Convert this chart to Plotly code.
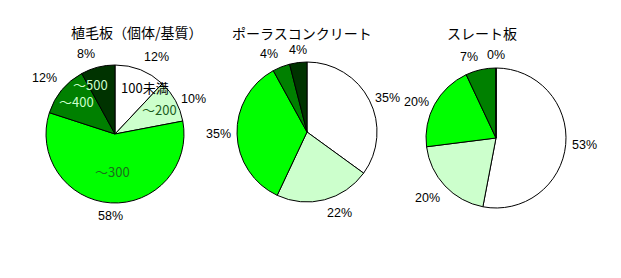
import math
import plotly.graph_objects as go

# Size classes (individuals per substrate) and share of each class per material
classes = ["100未満", "～200", "～300", "～400", "～500"]
materials = ["植毛板（個体/基質）", "ポーラスコンクリート", "スレート板"]
shares_flocked = [12, 10, 58, 12, 8]
shares_porous = [35, 22, 35, 4, 4]
shares_slate = [53, 20, 20, 7, 0]

slice_colors = ["#ffffff", "#ccffcc", "#00ff00", "#008000", "#003300"]
label_colors = ["#000000", "#1c5c1c", "#1c6c1c", "#ccffcc", "#ccffcc"]

W, H = 621, 278
# pie centres and radius in pixels
centres = [(115, 134, 69), (307, 132, 70), (496, 138, 70)]
title_pos = [(137, 32), (302, 33), (482, 33)]

PCT_FONT = dict(family="Liberation Sans", size=12.5, color="#000000")
JP_FONT = "Noto Sans CJK JP"


def domain(cx, cy, r):
    return dict(x=[(cx - r) / W, (cx + r) / W],
                y=[1 - (cy + r) / H, 1 - (cy - r) / H])


def mid_angles(vals):
    """Mid angle of each slice, degrees clockwise from 12 o'clock."""
    total = float(sum(vals))
    out, acc = [], 0.0
    for v in vals:
        out.append(360.0 * (acc + v / 2.0) / total)
        acc += v
    return out


def text_width(s, size=13):
    return sum(size if ord(ch) > 0x2000 else 0.58 * size for ch in s)


fig = go.Figure()
all_shares = [shares_flocked, shares_porous, shares_slate]
for i, vals in enumerate(all_shares):
    cx, cy, r = centres[i]
    fig.add_trace(go.Pie(
        values=vals, labels=classes, sort=False, direction="clockwise",
        rotation=0, domain=domain(cx, cy, r),
        marker=dict(colors=slice_colors, line=dict(color="#000000", width=1)),
        textinfo="none", hoverinfo="skip", showlegend=False,
    ))

    # percentage labels just outside the rim, anchored away from the centre
    total = sum(vals)
    for v, a in zip(vals, mid_angles(vals)):
        s, c = math.sin(math.radians(a)), math.cos(math.radians(a))
        px = cx + (r + 4) * s
        py = cy - (r + 4) * c
        xa = "center" if abs(s) < 0.15 else ("left" if s > 0 else "right")
        ya = "middle" if abs(c) < 0.5 else ("bottom" if c > 0 else "top")
        fig.add_annotation(text=f"{round(100 * v / total)}%", x=px / W, y=1 - py / H,
                           xref="paper", yref="paper", showarrow=False,
                           xanchor=xa, yanchor=ya, font=PCT_FONT)

# class names inside the first pie: bigger slices pull their label inwards,
# and neighbouring labels on the same line are nudged apart
cx, cy, r = centres[0]
total = float(sum(shares_flocked))
pos = []
for name, v, a in zip(classes, shares_flocked, mid_angles(shares_flocked)):
    s, c = math.sin(math.radians(a)), math.cos(math.radians(a))
    rho = r * (0.78 - 0.4 * v / total)
    pos.append([cx + rho * s, cy - rho * c, text_width(name)])
for _ in range(5):
    for j in range(len(pos)):
        k = (j + 1) % len(pos)
        a_, b_ = pos[j], pos[k]
        if abs(a_[1] - b_[1]) < 14:
            need = (a_[2] + b_[2]) / 2 + 12 - abs(a_[0] - b_[0])
            if need > 0:
                sgn = 1 if a_[0] >= b_[0] else -1
                a_[0] += sgn * need / 2
                b_[0] -= sgn * need / 2
for name, (x, y, _), col in zip(classes, pos, label_colors):
    fig.add_annotation(text=name, x=x / W, y=1 - y / H, xref="paper", yref="paper",
                       showarrow=False, xanchor="center", yanchor="middle",
                       font=dict(family=JP_FONT, size=13, color=col))

for name, (tx, ty) in zip(materials, title_pos):
    fig.add_annotation(text=name, x=tx / W, y=1 - ty / H, xref="paper", yref="paper",
                       showarrow=False, xanchor="center", yanchor="middle",
                       font=dict(family=JP_FONT, size=14, color="#000000"))

fig.update_layout(
    width=W, height=H, margin=dict(l=0, r=0, t=0, b=0),
    paper_bgcolor="#ffffff", plot_bgcolor="#ffffff",
)
fig.write_html("out.html")
